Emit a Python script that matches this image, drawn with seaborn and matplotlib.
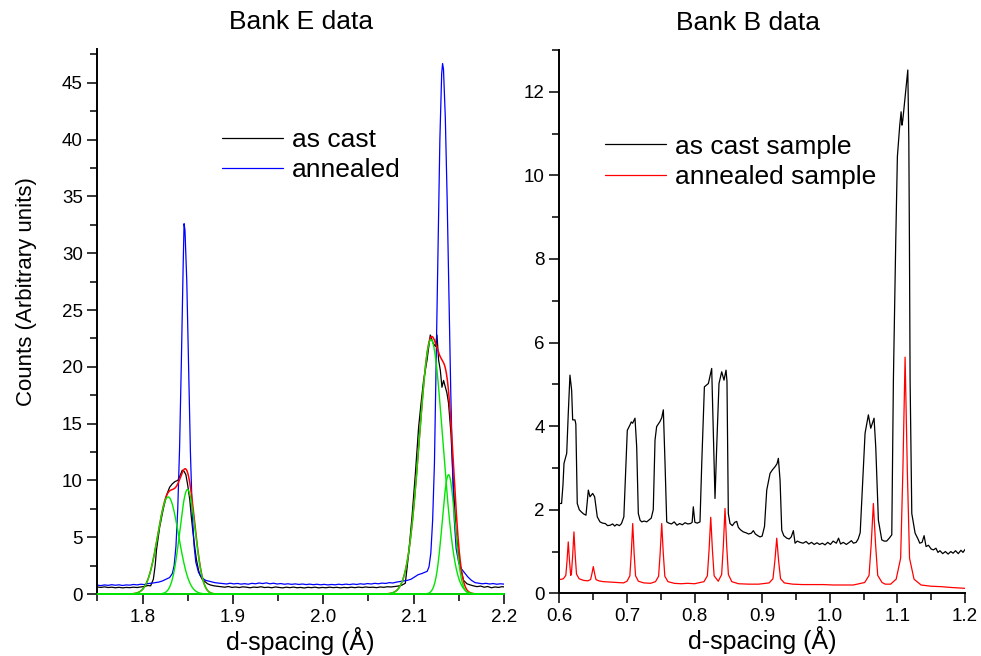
import numpy as np
import pandas as pd
import matplotlib
matplotlib.use("Agg")
import matplotlib.pyplot as plt
from matplotlib.ticker import MultipleLocator, FormatStrFormatter
import seaborn as sns

# ---------------- Bank E (left) ----------------
bankE_d_cast = [
    1.750, 1.754, 1.758, 1.762, 1.766, 1.770, 1.774, 1.778, 1.782, 1.786,
    1.790, 1.794, 1.798, 1.802, 1.806, 1.809, 1.812, 1.814, 1.8155, 1.819,
    1.823, 1.8266, 1.830, 1.833, 1.836, 1.839, 1.8415, 1.844, 1.846, 1.848,
    1.850, 1.8523, 1.854, 1.856, 1.858, 1.8597, 1.862, 1.8634, 1.866, 1.869,
    1.872, 1.875, 1.879, 1.883, 1.887, 1.891, 1.895, 1.899, 1.903, 1.907,
    1.911, 1.915, 1.919, 1.923, 1.927, 1.931, 1.935, 1.939, 1.943, 1.947,
    1.951, 1.955, 1.959, 1.963, 1.967, 1.971, 1.975, 1.979, 1.983, 1.987,
    1.991, 1.995, 1.999, 2.003, 2.007, 2.011, 2.015, 2.019, 2.023, 2.027,
    2.031, 2.035, 2.039, 2.043, 2.047, 2.051, 2.055, 2.059, 2.063, 2.067,
    2.071, 2.075, 2.079, 2.083, 2.087, 2.0908, 2.0945, 2.0982, 2.1019, 2.1055,
    2.1082, 2.111, 2.1148, 2.1184, 2.1214, 2.124, 2.1258, 2.1276, 2.1295, 2.1313,
    2.1331, 2.1368, 2.1386, 2.1413, 2.1441, 2.147, 2.1508, 2.1552, 2.159, 2.1626,
    2.166, 2.170, 2.174, 2.178, 2.182, 2.186, 2.190, 2.194, 2.198, 2.200,
]
bankE_counts_cast = [
    0.62, 0.58, 0.63, 0.57, 0.60, 0.55, 0.59, 0.54, 0.58, 0.56,
    0.60, 0.57, 0.62, 0.66, 0.75, 0.72, 1.3, 2.5, 3.9, 5.9,
    7.5, 8.7, 9.4, 9.7, 9.9, 10.0, 10.4, 10.9, 10.8, 10.5,
    9.6, 8.3, 6.8, 5.3, 4.0, 3.0, 2.1, 1.7, 1.3, 1.1,
    0.9, 0.8, 0.72, 0.68, 0.64, 0.60, 0.66, 0.58, 0.62, 0.57,
    0.63, 0.60, 0.55, 0.61, 0.58, 0.64, 0.57, 0.60, 0.55, 0.62,
    0.58, 0.54, 0.60, 0.56, 0.61, 0.55, 0.58, 0.53, 0.59, 0.56,
    0.60, 0.54, 0.58, 0.55, 0.60, 0.56, 0.59, 0.54, 0.58, 0.55,
    0.60, 0.56, 0.61, 0.57, 0.62, 0.58, 0.60, 0.56, 0.62, 0.59,
    0.64, 0.62, 0.66, 0.70, 0.78, 0.95, 3.6, 6.8, 10.6, 14.7,
    16.8, 18.8, 20.6, 22.8, 22.1, 21.8, 22.8, 20.6, 19.7, 18.2,
    18.8, 17.7, 16.8, 14.1, 9.4, 5.3, 2.7, 1.2, 0.9, 0.8,
    0.72, 0.65, 0.70, 0.60, 0.66, 0.55, 0.62, 0.58, 0.65, 0.62,
]

bankE_d_anneal = [
    1.750, 1.754, 1.758, 1.762, 1.766, 1.770, 1.774, 1.778, 1.782, 1.786,
    1.790, 1.794, 1.798, 1.802, 1.806, 1.810, 1.814, 1.818, 1.822, 1.826,
    1.830, 1.833, 1.835, 1.837, 1.839, 1.841, 1.843, 1.845, 1.846, 1.847,
    1.849, 1.851, 1.853, 1.855, 1.857, 1.859, 1.862, 1.866, 1.870, 1.875,
    1.880, 1.885, 1.889, 1.893, 1.897, 1.901, 1.905, 1.909, 1.913, 1.917,
    1.921, 1.925, 1.929, 1.933, 1.937, 1.941, 1.945, 1.949, 1.953, 1.957,
    1.961, 1.965, 1.969, 1.973, 1.977, 1.981, 1.985, 1.989, 1.993, 1.997,
    2.001, 2.005, 2.009, 2.013, 2.017, 2.021, 2.025, 2.029, 2.033, 2.037,
    2.041, 2.045, 2.049, 2.053, 2.057, 2.061, 2.065, 2.069, 2.073, 2.077,
    2.081, 2.085, 2.089, 2.093, 2.097, 2.101, 2.105, 2.109, 2.112, 2.115,
    2.117, 2.119, 2.121, 2.123, 2.125, 2.127, 2.129, 2.131, 2.132, 2.133,
    2.135, 2.137, 2.139, 2.141, 2.143, 2.145, 2.147, 2.150, 2.153, 2.156,
    2.160, 2.164, 2.168, 2.172, 2.176, 2.180, 2.184, 2.188, 2.192, 2.196,
    2.200,
]
bankE_counts_anneal = [
    0.78, 0.74, 0.80, 0.76, 0.82, 0.77, 0.81, 0.75, 0.80, 0.78,
    0.84, 0.80, 0.86, 0.83, 0.92, 0.95, 1.00, 1.05, 1.15, 1.30,
    1.45, 1.8, 2.5, 4.2, 7.5, 12.8, 20.5, 29.0, 32.6, 32.0,
    27.5, 20.0, 12.5, 7.3, 4.3, 2.8, 1.9, 1.4, 1.2, 1.1,
    1.0, 0.95, 0.92, 0.88, 0.95, 0.89, 0.93, 0.87, 0.91, 0.86,
    0.94, 0.90, 0.97, 0.92, 0.98, 0.90, 0.95, 0.88, 0.92, 0.86,
    0.90, 0.85, 0.89, 0.84, 0.88, 0.83, 0.87, 0.82, 0.86, 0.81,
    0.85, 0.80, 0.84, 0.81, 0.86, 0.82, 0.87, 0.83, 0.88, 0.84,
    0.90, 0.86, 0.92, 0.88, 0.94, 0.90, 0.96, 0.93, 1.00, 0.97,
    1.05, 1.10, 1.15, 1.20, 1.30, 1.50, 1.70, 1.80, 1.90, 2.00,
    2.4, 3.6, 6.5, 11.5, 21.0, 31.0, 40.0, 45.8, 46.7, 46.2,
    42.0, 35.0, 26.5, 18.0, 11.0, 6.5, 4.0, 2.7, 2.2, 1.9,
    1.5, 1.2, 1.0, 0.95, 0.90, 0.94, 0.88, 0.92, 0.86, 0.90,
    0.87,
]

# Gaussian components fitted to the as-cast peaks
fit_centers = [1.8284, 1.8498, 2.1192, 2.1386]
fit_heights = [8.55, 9.2, 22.4, 10.5]
fit_sigmas = [0.0115, 0.0085, 0.013, 0.007]

# ---------------- Bank B (right) ----------------
bankB_d_cast = [
    0.600, 0.6034, 0.6055, 0.607, 0.611, 0.6133, 0.6158, 0.6183, 0.6198, 0.6232,
    0.6245, 0.6266, 0.6296, 0.6325, 0.636, 0.6395, 0.643, 0.6454, 0.6494, 0.6523,
    0.6562, 0.6602, 0.664, 0.668, 0.6715, 0.6753, 0.679, 0.682, 0.685, 0.689,
    0.692, 0.6955, 0.6987, 0.7006, 0.7046, 0.7065, 0.7085, 0.712, 0.7145, 0.7169,
    0.7195, 0.7219, 0.7255, 0.7293, 0.733, 0.736, 0.739, 0.7416, 0.744, 0.7465,
    0.7489, 0.7515, 0.7539, 0.7564, 0.7589, 0.762, 0.766, 0.770, 0.774, 0.778,
    0.782, 0.786, 0.790, 0.794, 0.7965, 0.7982, 0.8005, 0.804, 0.8081, 0.8107,
    0.8146, 0.8175, 0.8205, 0.823, 0.8254, 0.8278, 0.8303, 0.8328, 0.8362, 0.8402,
    0.8436, 0.8466, 0.848, 0.850, 0.8525, 0.856, 0.8595, 0.8624, 0.8648, 0.868,
    0.8722, 0.876, 0.880, 0.884, 0.887, 0.890, 0.8935, 0.8969, 0.900, 0.9035,
    0.9068, 0.9117, 0.915, 0.9191, 0.922, 0.924, 0.9265, 0.929, 0.932, 0.9364,
    0.940, 0.943, 0.9462, 0.9487, 0.952, 0.956, 0.9605, 0.965, 0.969, 0.973,
    0.977, 0.981, 0.985, 0.989, 0.993, 0.997, 1.001, 1.005, 1.0097, 1.013,
    1.016, 1.020, 1.0245, 1.028, 1.032, 1.035, 1.039, 1.042, 1.045, 1.0488,
    1.0522, 1.0571, 1.0606, 1.0655, 1.068, 1.0719, 1.0769, 1.0805, 1.0841, 1.088,
    1.0917, 1.0941, 1.0976, 1.100, 1.1035, 1.1055, 1.1068, 1.108, 1.1124, 1.1154,
    1.1169, 1.1178, 1.1188, 1.1213, 1.1262, 1.1305, 1.1331, 1.1365, 1.1395, 1.1424,
    1.146, 1.150, 1.1533, 1.157, 1.160, 1.163, 1.167, 1.171, 1.175, 1.179,
    1.1823, 1.186, 1.190, 1.194, 1.197, 1.200,
]
bankB_counts_cast = [
    2.15, 2.15, 2.6, 3.11, 3.35, 4.3, 5.22, 4.86, 4.15, 4.15,
    4.05, 2.15, 2.0, 1.95, 1.9, 1.87, 2.47, 2.31, 2.39, 2.31,
    1.83, 1.71, 1.68, 1.67, 1.62, 1.63, 1.66, 1.61, 1.65, 1.62,
    1.67, 1.83, 3.11, 3.9, 4.03, 4.10, 4.07, 4.19, 3.5, 1.91,
    1.75, 1.71, 1.73, 1.71, 1.76, 1.80, 2.0, 3.67, 3.99, 4.05,
    4.11, 4.20, 4.39, 3.11, 1.71, 1.68, 1.66, 1.71, 1.63, 1.67,
    1.64, 1.69, 1.66, 1.67, 1.70, 2.07, 1.70, 1.68, 1.71, 3.11,
    4.94, 4.98, 5.02, 5.20, 5.38, 3.9, 2.27, 3.5, 5.02, 5.30,
    5.10, 5.34, 5.07, 1.91, 1.67, 1.62, 1.70, 1.72, 1.58, 1.52,
    1.47, 1.45, 1.42, 1.44, 1.50, 1.42, 1.38, 1.35, 1.37, 1.60,
    2.47, 2.87, 2.95, 3.03, 3.10, 3.23, 2.71, 1.51, 1.38, 1.32,
    1.30, 1.35, 1.50, 1.20, 1.25, 1.22, 1.20, 1.24, 1.18, 1.22,
    1.17, 1.21, 1.17, 1.20, 1.16, 1.22, 1.17, 1.25, 1.20, 1.32,
    1.18, 1.22, 1.17, 1.21, 1.26, 1.20, 1.22, 1.30, 1.45, 2.71,
    3.83, 4.27, 3.95, 4.19, 3.5, 1.75, 1.28, 1.25, 1.25, 1.32,
    1.40, 5.1, 8.45, 10.45, 11.2, 11.52, 11.2, 11.32, 12.04, 12.52,
    10.85, 8.45, 5.1, 1.91, 1.44, 1.30, 1.20, 1.22, 1.38, 1.12,
    1.15, 1.06, 1.04, 1.08, 0.98, 1.02, 0.95, 1.00, 0.94, 1.00,
    0.96, 1.02, 0.95, 1.03, 0.98, 1.05,
]

bankB_d_anneal = [
    0.600, 0.604, 0.6061, 0.6097, 0.6115, 0.6133, 0.6151, 0.6169, 0.6179, 0.6198,
    0.6217, 0.6236, 0.6255, 0.6293, 0.636, 0.6423, 0.6463, 0.6483, 0.6503, 0.6523,
    0.6543, 0.6583, 0.665, 0.675, 0.685, 0.695, 0.7002, 0.7044, 0.7065, 0.7086,
    0.7107, 0.7128, 0.717, 0.725, 0.735, 0.7423, 0.7469, 0.7492, 0.7515, 0.7538,
    0.7561, 0.7607, 0.770, 0.780, 0.790, 0.800, 0.814, 0.819, 0.8215, 0.824,
    0.8265, 0.829, 0.8351, 0.8401, 0.8426, 0.8451, 0.8476, 0.8501, 0.8551, 0.865,
    0.880, 0.895, 0.9104, 0.916, 0.9188, 0.9216, 0.9244, 0.9272, 0.9328, 0.945,
    0.960, 0.975, 0.990, 1.005, 1.020, 1.035, 1.0517, 1.0581, 1.0613, 1.0645,
    1.0677, 1.0709, 1.0773, 1.082, 1.090, 1.0982, 1.1048, 1.1081, 1.1114, 1.1147,
    1.118, 1.1246, 1.135, 1.150, 1.165, 1.180, 1.190, 1.200,
]
bankB_counts_anneal = [
    0.33, 0.34, 0.35, 0.43, 0.78, 1.23, 0.78, 0.43, 0.46, 0.90,
    1.47, 0.90, 0.46, 0.35, 0.31, 0.30, 0.33, 0.47, 0.64, 0.47,
    0.33, 0.30, 0.28, 0.27, 0.26, 0.25, 0.29, 0.42, 0.96, 1.67,
    0.96, 0.42, 0.29, 0.25, 0.24, 0.28, 0.41, 0.96, 1.67, 0.96,
    0.41, 0.28, 0.24, 0.23, 0.24, 0.23, 0.28, 0.42, 1.03, 1.82,
    1.03, 0.42, 0.29, 0.45, 1.13, 2.03, 1.13, 0.45, 0.28, 0.23,
    0.22, 0.22, 0.25, 0.35, 0.77, 1.32, 0.77, 0.35, 0.25, 0.22,
    0.21, 0.21, 0.21, 0.20, 0.20, 0.20, 0.26, 0.43, 1.18, 2.15,
    1.18, 0.43, 0.26, 0.22, 0.22, 0.34, 0.84, 2.92, 5.65, 2.92,
    0.84, 0.34, 0.20, 0.17, 0.16, 0.14, 0.13, 0.12,
]

# ---------------- styling ----------------
sns.set_theme(style="ticks")
plt.rcParams["font.family"] = ["Liberation Sans", "DejaVu Sans"]
plt.rcParams["axes.linewidth"] = 1.4
plt.rcParams["text.color"] = "black"
plt.rcParams["axes.labelcolor"] = "black"
plt.rcParams["axes.edgecolor"] = "black"

TICK_FS = 13.5
LABEL_FS = 18
TITLE_FS = 19
LEGEND_FS = 19
LW = 0.9

fig = plt.figure(figsize=(9.81, 6.56), dpi=100)
axE = fig.add_axes([0.0992, 0.0945, 0.4146, 0.8312])
axB = fig.add_axes([0.5701, 0.0955, 0.4136, 0.8284])

# Bank E spectra
sns.lineplot(x=bankE_d_cast, y=bankE_counts_cast, ax=axE, color="black",
             linewidth=LW, estimator=None, sort=False, label="as cast")
sns.lineplot(x=bankE_d_anneal, y=bankE_counts_anneal, ax=axE, color="blue",
             linewidth=LW, estimator=None, sort=False, label="annealed")

# Fit: total (red) and individual components (green)
d_fit = np.linspace(1.75, 2.2, 1201)
components = [h * np.exp(-0.5 * ((d_fit - c) / s) ** 2)
              for c, h, s in zip(fit_centers, fit_heights, fit_sigmas)]
fit_total = np.sum(components, axis=0)
sns.lineplot(x=d_fit, y=fit_total, ax=axE, color="red", linewidth=1.1,
             estimator=None, sort=False)
for comp in components:
    sns.lineplot(x=d_fit, y=comp, ax=axE, color="#00e600", linewidth=1.0,
                 estimator=None, sort=False, zorder=3, clip_on=False)

# Bank B spectra
sns.lineplot(x=bankB_d_cast, y=bankB_counts_cast, ax=axB, color="black",
             linewidth=LW, estimator=None, sort=False, label="as cast sample")
sns.lineplot(x=bankB_d_anneal, y=bankB_counts_anneal, ax=axB, color="red",
             linewidth=LW, estimator=None, sort=False, label="annealed sample")

# axes ranges and ticks
axE.set_xlim(1.75, 2.2)
axE.set_ylim(0, 48)
axE.xaxis.set_major_locator(MultipleLocator(0.1))
axE.xaxis.set_minor_locator(MultipleLocator(0.05))
axE.xaxis.set_major_formatter(FormatStrFormatter("%.1f"))
axE.yaxis.set_major_locator(MultipleLocator(5))
axE.yaxis.set_minor_locator(MultipleLocator(2.5))

axB.set_xlim(0.6, 1.2)
axB.set_ylim(0, 13)
axB.xaxis.set_major_locator(MultipleLocator(0.1))
axB.xaxis.set_minor_locator(MultipleLocator(0.05))
axB.xaxis.set_major_formatter(FormatStrFormatter("%.1f"))
axB.yaxis.set_major_locator(MultipleLocator(2))
axB.yaxis.set_minor_locator(MultipleLocator(1))

for ax in (axE, axB):
    sns.despine(ax=ax)
    ax.tick_params(which="major", direction="out", length=7.5, width=1.1,
                   labelsize=TICK_FS, pad=3, color="black", labelcolor="black")
    ax.tick_params(which="minor", direction="out", length=5, width=1.1,
                   color="black")
    ax.set_xlabel("d-spacing (\u00c5)", fontsize=LABEL_FS, labelpad=1,
                  color="black")

axE.set_ylabel("Counts (Arbitrary units)", fontsize=16, color="black")
axE.yaxis.set_label_coords(-0.148, 0.554)
axB.set_ylabel("")

axE.set_title("Bank E data", fontsize=TITLE_FS, pad=14, color="black")
axB.set_title("Bank B data", fontsize=TITLE_FS, pad=14, x=0.464, color="black")

for ax, anchor in ((axE, (0.3066, 0.855)), (axB, (0.1126, 0.844))):
    leg = ax.legend(loc="upper left", bbox_to_anchor=anchor, frameon=False,
                    fontsize=LEGEND_FS, handlelength=2.3, handletextpad=0.35,
                    borderpad=0, borderaxespad=0, labelspacing=0.25)
    for txt in leg.get_texts():
        txt.set_color("black")

fig.savefig("out.png", dpi=100)
